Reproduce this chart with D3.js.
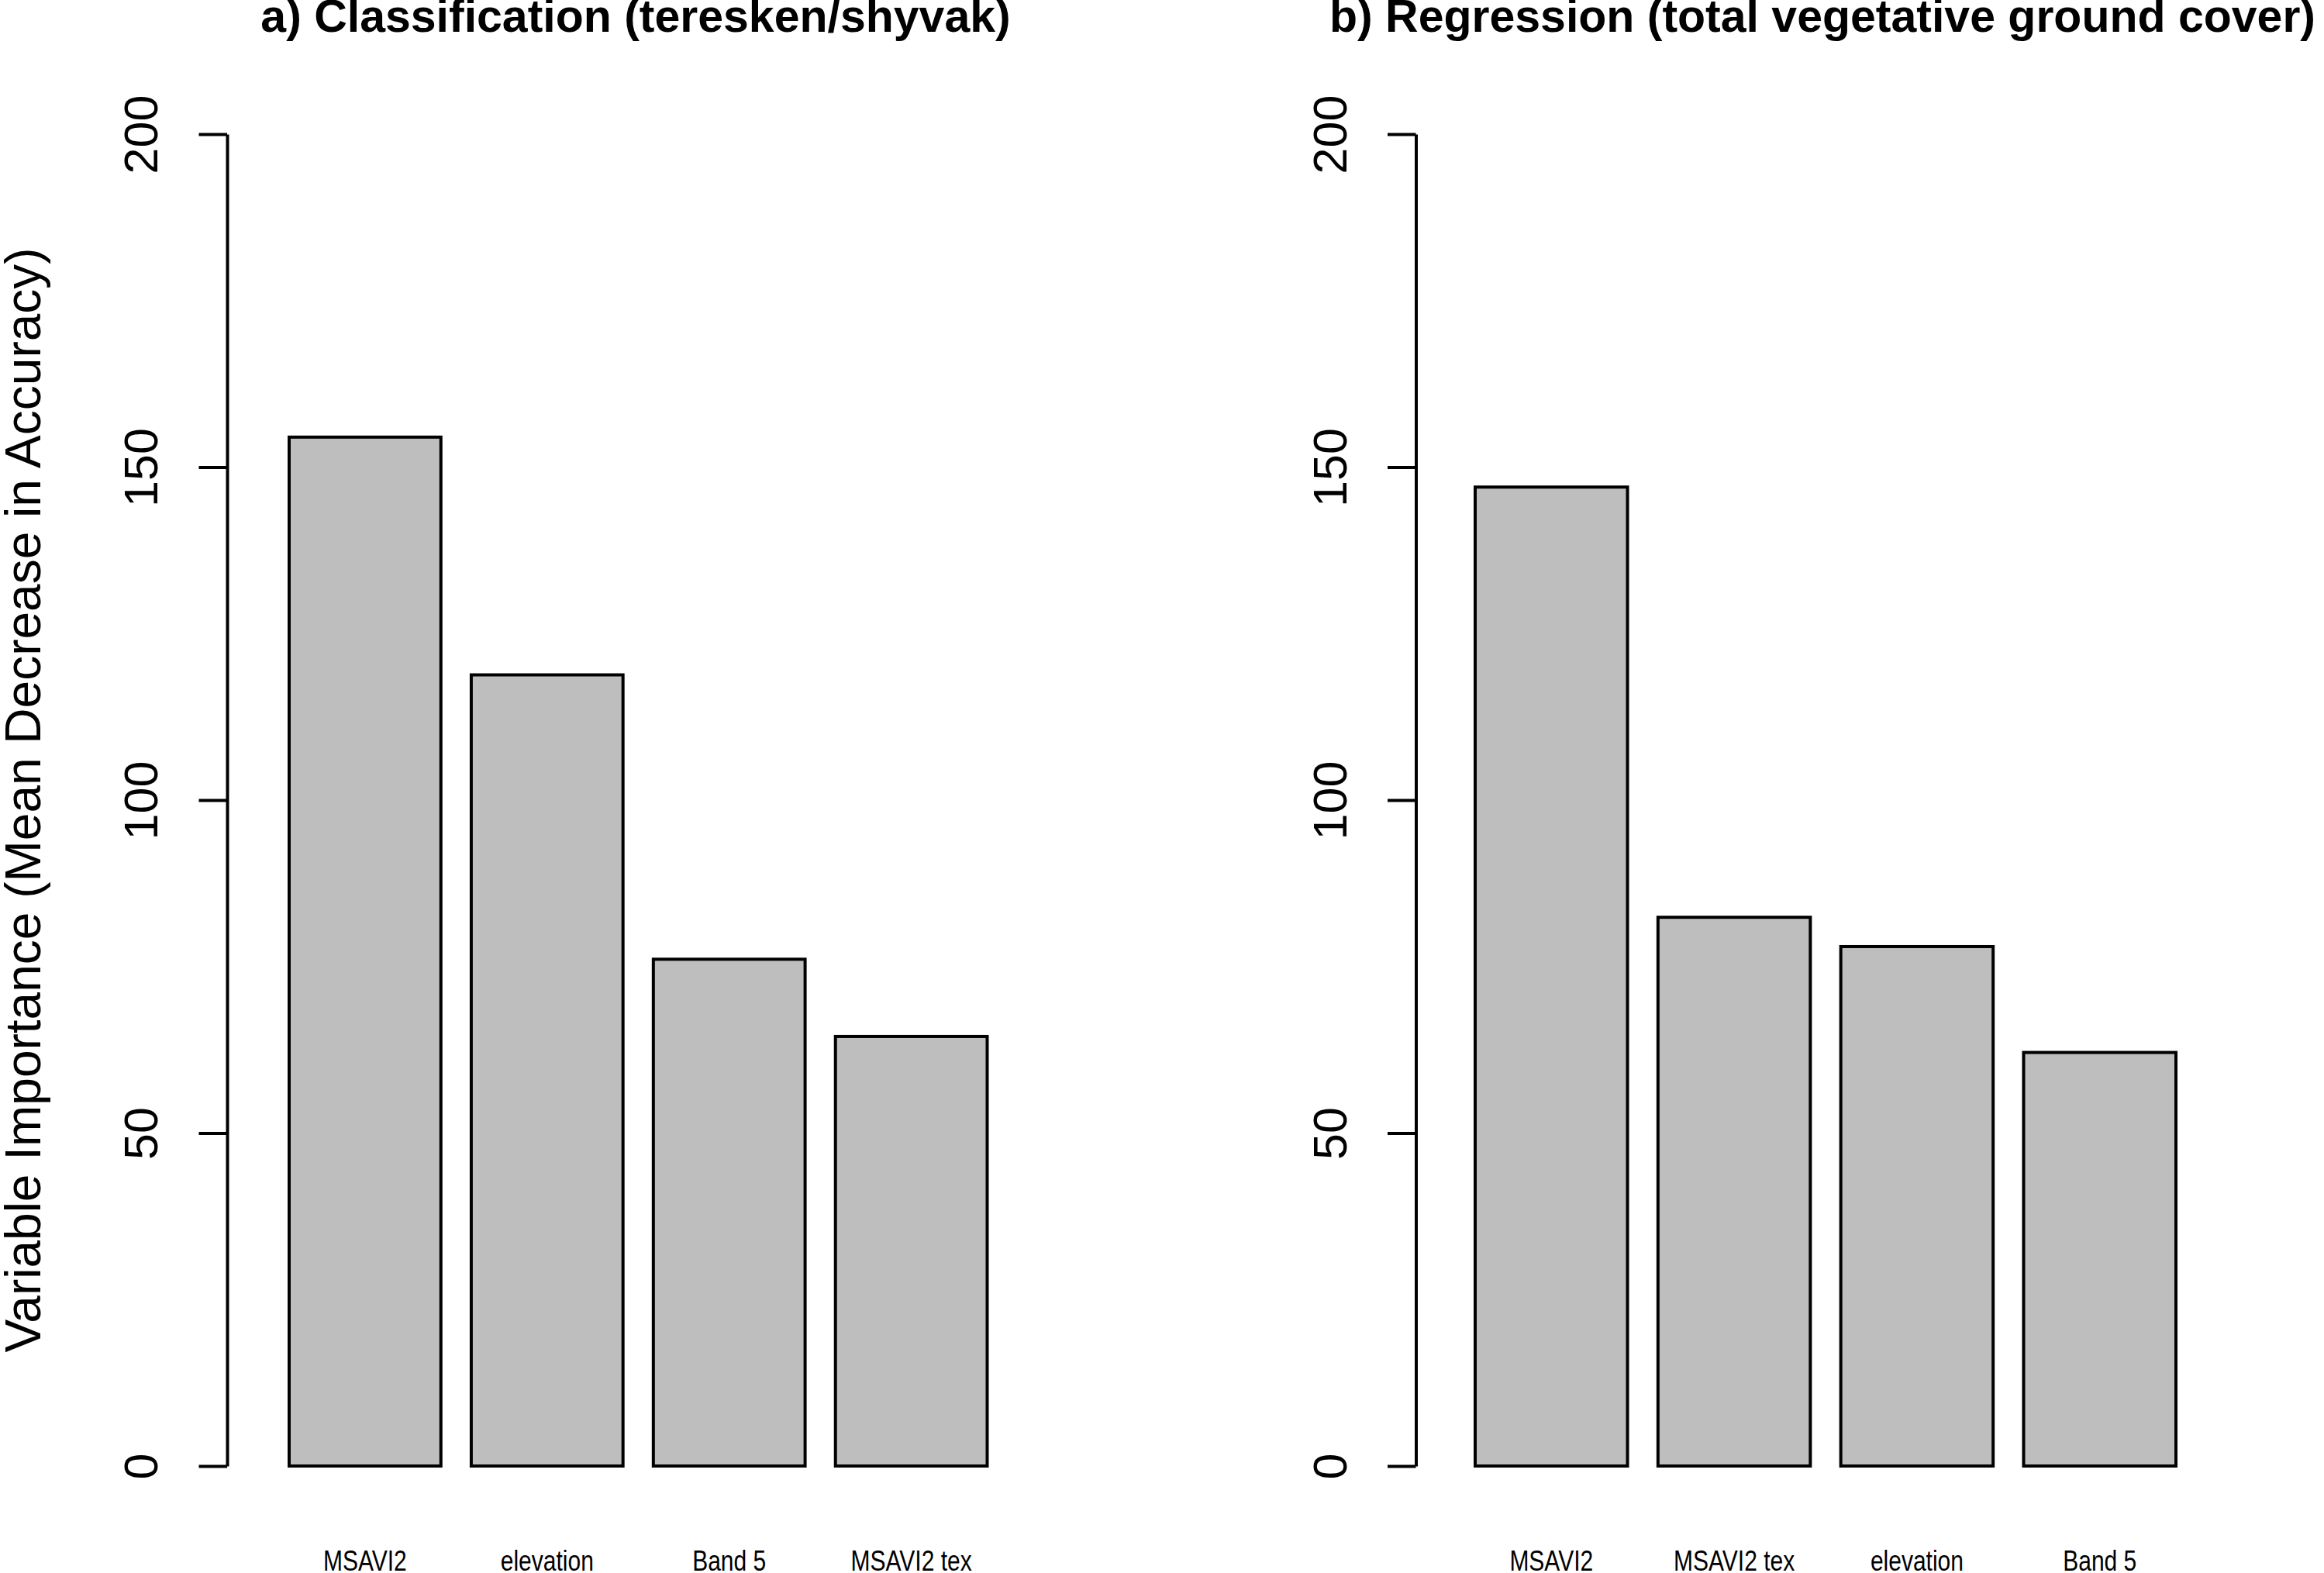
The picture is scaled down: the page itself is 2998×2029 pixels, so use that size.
<!DOCTYPE html>
<html>
<head>
<meta charset="utf-8">
<script src="https://cdn.jsdelivr.net/npm/d3@7"></script>
<style>
  body { margin: 0; background: #fff; }
  svg { display: block; font-family: "Liberation Sans", Arial, sans-serif; }
</style>
</head>
<body>
<svg id="chart" width="2998" height="2029"></svg>
<script>
// data
const categoriesA = ['MSAVI2', 'elevation', 'Band 5', 'MSAVI2 tex'];
const valuesA = [154.5, 118.8, 76.1, 64.5];
const categoriesB = ['MSAVI2', 'MSAVI2 tex', 'elevation', 'Band 5'];
const valuesB = [147.0, 82.4, 78.0, 62.1];
const yTicks = [0, 50, 100, 150, 200];
const titles = ['a) Classification (teresken/shyvak)', 'b) Regression (total vegetative ground cover)'];
const yLabel = 'Variable Importance (Mean Decrease in Accuracy)';

document.addEventListener('DOMContentLoaded', function () {
    const svg = d3.select('#chart');

    // shared value scale
    const y = d3.scaleLinear().domain([0, 200]).range([1891, 173]);

    const panels = [
        { cats: categoriesA, vals: valuesA, title: titles[0], axisX: 293, barL: 373, barR: 1273.5, titleX: 820 },
        { cats: categoriesB, vals: valuesB, title: titles[1], axisX: 1826.5, barL: 1903, barR: 2807, titleX: 2351 }
    ];

    panels.forEach(p => {
        const g = svg.append('g');

        // R barplot: width 1, space 0.2
        const x = d3.scaleBand()
            .domain(p.cats)
            .range([p.barL, p.barR])
            .paddingInner(0.2 / 1.2)
            .paddingOuter(0);

        g.selectAll('rect.bar')
            .data(p.cats.map((c, i) => ({ cat: c, val: p.vals[i] })))
            .enter().append('rect')
            .attr('class', 'bar')
            .attr('x', d => x(d.cat))
            .attr('y', d => y(d.val))
            .attr('width', x.bandwidth())
            .attr('height', d => y(0) - y(d.val))
            .attr('fill', '#bebebe')
            .attr('stroke', '#000')
            .attr('stroke-width', 4);

        // y axis, labels turned parallel to the axis like R does
        const axis = g.append('g')
            .attr('transform', `translate(${p.axisX},0)`)
            .call(d3.axisLeft(y).tickValues(yTicks).tickSize(36.5).tickSizeOuter(0).tickFormat(d3.format('d')));
        axis.select('.domain').attr('stroke-width', 4);
        axis.selectAll('.tick line').attr('stroke-width', 4);
        axis.selectAll('.tick text')
            .attr('transform', 'rotate(-90)')
            .attr('x', 0)
            .attr('y', -90)
            .attr('dy', 0)
            .attr('text-anchor', 'middle')
            .attr('font-size', 61)
            .attr('font-family', '"Liberation Sans", Arial, sans-serif')
            .attr('fill', '#000');

        // category names under the bars, right at the bottom edge
        g.selectAll('text.cat')
            .data(p.cats)
            .enter().append('text')
            .attr('class', 'cat')
            .attr('transform', d => `translate(${x(d) + x.bandwidth() / 2},2026) scale(1,1.2)`)
            .attr('text-anchor', 'middle')
            .attr('font-size', 30)
            .text(d => d);

        g.append('text')
            .attr('x', p.titleX)
            .attr('y', 41)
            .attr('text-anchor', 'middle')
            .attr('font-size', 59)
            .attr('font-weight', 'bold')
            .text(p.title);
    });

    svg.append('text')
        .attr('transform', 'translate(52,1032) rotate(-90)')
        .attr('text-anchor', 'middle')
        .attr('font-size', 64)
        .text(yLabel);
});
</script>
</body>
</html>
